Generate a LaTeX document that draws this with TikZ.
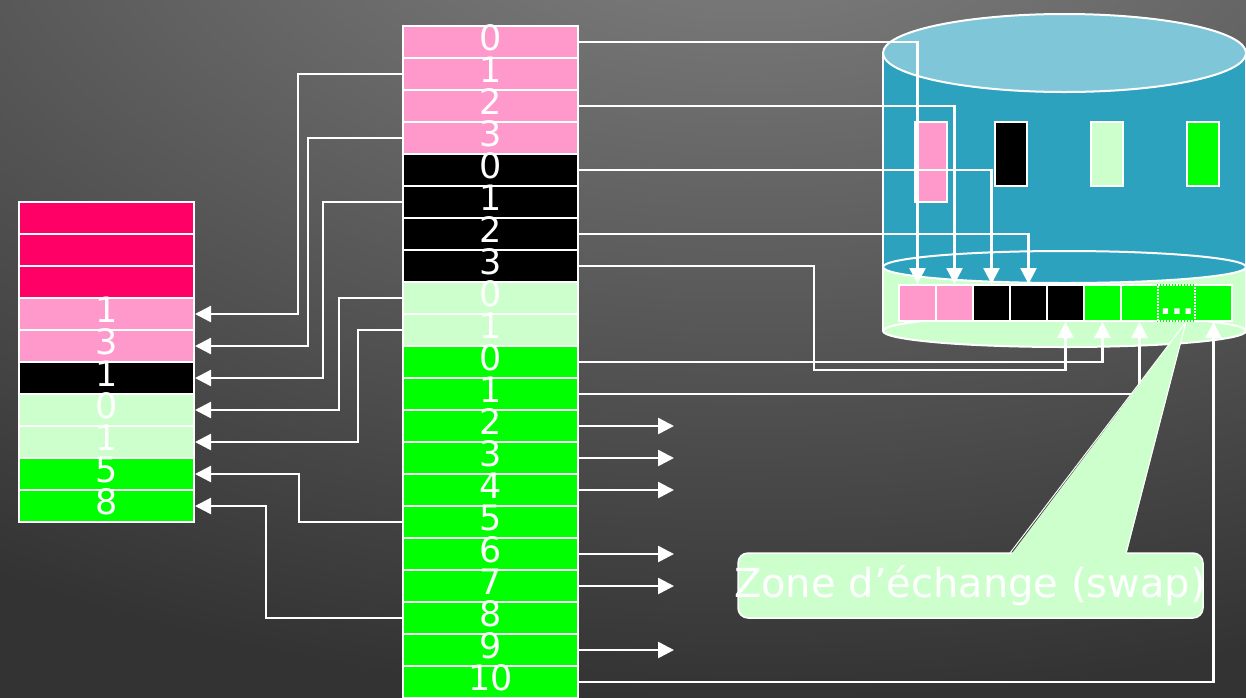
\documentclass[tikz,border=0pt]{standalone}
\usepackage{fontspec}
\setmainfont{DejaVu Sans}
\usetikzlibrary{arrows.meta,calc}
\definecolor{pinkc}{HTML}{FF99CC}
\definecolor{redc}{HTML}{FF0066}
\definecolor{lgr}{HTML}{CCFFCC}
\definecolor{grn}{HTML}{00FF00}
\definecolor{diskbody}{HTML}{2CA2BF}
\definecolor{disktop}{HTML}{80C6D9}
\definecolor{bgin}{HTML}{858585}
\definecolor{bgout}{HTML}{333333}
\pgfdeclareradialshading{bgshade}{\pgfpoint{0bp}{0bp}}{color(0bp)=(bgin); color(19bp)=(bgout); color(25bp)=(bgout); color(50bp)=(bgout)}
\begin{document}
\begin{tikzpicture}[x=1pt,y=-1pt,
  cell/.style={rectangle, minimum width=175pt, minimum height=32pt, inner sep=0pt,
    draw=white, line width=2pt, text=white, font=\fontsize{35}{35}\selectfont,
    text height=24pt, text depth=8pt},
  slot/.style={rectangle, minimum width=37pt, minimum height=36pt, inner sep=0pt,
    draw=white, line width=2pt},
  dotslot/.style={slot, fill=grn, densely dotted, preaction={draw=grn, solid, line width=2pt}},
  drect/.style={rectangle, minimum width=32pt, minimum height=64pt, inner sep=0pt,
    draw=white, line width=2.5pt},
  conn/.style={draw=white, line width=2.5pt},
  arr/.style={conn, -{Triangle[length=16pt,width=16pt]}},
  cbox/.style={rectangle, rounded corners=10pt, minimum width=465pt, minimum height=65pt,
    fill=lgr, draw=white, line width=1.5pt, inner sep=0pt},
  ctext/.style={text=white, font=\fontsize{40}{40}\selectfont, inner sep=0pt, anchor=base},
  dotstext/.style={text=white, font=\fontsize{30}{30}\selectfont\bfseries, inner sep=0pt, anchor=base}
]
\useasboundingbox (0,0) rectangle (1246,697);
% background
\begin{scope}
  \clip (0,0) rectangle (1246,697);
  \fill[bgout] (0,0) rectangle (1246,697);
  \shade[shading=bgshade] (750,-150) ellipse [x radius=1900, y radius=1120];
\end{scope}

% disk (cylinder)
\fill[lgr] (883,267) rectangle (1246,331);
\fill[lgr] (1064.5,331) ellipse [x radius=181.5, y radius=16];
\draw[white, line width=2pt] (1064.5,331) ellipse [x radius=181.5, y radius=16];
\fill[diskbody] (883,53) rectangle (1246,267);
\filldraw[fill=diskbody, draw=white, line width=2pt] (1064.5,267) ellipse [x radius=181.5, y radius=16];
\draw[white, line width=2pt] (883,53) -- (883,331);
\draw[white, line width=2pt] (1246,53) -- (1246,331);
\filldraw[fill=disktop, draw=white, line width=2pt] (1064.5,53) ellipse [x radius=181.5, y radius=39];

% blocks inside the disk
\node[drect, fill=pinkc, minimum height=80pt] (dp) at (931,162) {};
\node[drect, fill=black] (db) at (1011,154) {};
\node[drect, fill=lgr] (dl) at (1107,154) {};
\node[drect, fill=grn] (dg) at (1203,154) {};

% swap slots
\node[slot, fill=pinkc] (s1) at (917.5,303) {};
\node[slot, fill=pinkc] (s2) at (954.5,303) {};
\node[slot, fill=black] (s3) at (991.5,303) {};
\node[slot, fill=black] (s4) at (1028.5,303) {};
\node[slot, fill=black] (s5) at (1065.5,303) {};
\node[slot, fill=grn] (s6) at (1102.5,303) {};
\node[slot, fill=grn] (s7) at (1139.5,303) {};
\node[slot, fill=grn] (s9) at (1213.5,303) {};
\node[dotslot] (s8) at (1176.5,303) {};
\node[dotstext] (s8d) at (1177,314) {...};

% middle column
\foreach \n/\c/\t [count=\k from 0] in {
  mp0/pinkc/0, mp1/pinkc/1, mp2/pinkc/2, mp3/pinkc/3,
  mb0/black/0, mb1/black/1, mb2/black/2, mb3/black/3,
  ml0/lgr/0, ml1/lgr/1,
  mg0/grn/0, mg1/grn/1, mg2/grn/2, mg3/grn/3, mg4/grn/4, mg5/grn/5,
  mg6/grn/6, mg7/grn/7, mg8/grn/8, mg9/grn/9, mg10/grn/10}
  \node[cell, fill=\c] (\n) at (490.5, 42+32*\k) {\t};

% left column
\foreach \n/\c/\t [count=\k from 0] in {
  lr0/redc/, lr1/redc/, lr2/redc/,
  lp1/pinkc/1, lp3/pinkc/3, lb1/black/1,
  ll0/lgr/0, ll1/lgr/1, lg5/grn/5, lg8/grn/8}
  \node[cell, fill=\c] (\n) at (106.5, 218+32*\k) {\t};

% connectors to the left column
\draw[arr] (mp1.west) -- ++(-104,0) |- (lp1.east);
\draw[arr] (mp3.west) -- ++(-94,0) |- (lp3.east);
\draw[arr] (mb1.west) -- ++(-79,0) |- (lb1.east);
\draw[arr] (ml0.west) -- ++(-63,0) |- (ll0.east);
\draw[arr] (ml1.west) -- ++(-44,0) |- (ll1.east);
\draw[arr] (mg5.west) -- ++(-103,0) |- (lg5.east);
\draw[arr] (mg8.west) -- ++(-136,0) |- (lg8.east);

% arrows to the right (free ends)
\foreach \n in {mg2,mg3,mg4,mg6,mg7,mg9}
  \draw[arr] (\n.east) -- ++(95,0);

% connectors to the swap slots
\draw[arr] (mp0.east) -| (s1.north);
\draw[arr] (mp2.east) -| (s2.north);
\draw[arr] (mb0.east) -| (s3.north);
\draw[arr] (mb2.east) -| (s4.north);
\draw[arr] (mb3.east) -- ++(235,0) -- ++(0,104) -| (s5.south);
\draw[arr] (mg0.east) -| (s6.south);
\draw[arr] (mg1.east) -| (s7.south);
\draw[arr] (mg10.east) -| (s9.south);

% callout
\node[cbox] (cb) at (970.5,585.5) {};
\coordinate (tip) at (1186,322);
\fill[lgr] (1010,556) -- (tip) -- (1126,556) -- cycle;
\draw[white, line width=1pt] (1010,553) -- (tip) -- (1126,553);
\node[ctext] (ct) at (970,597) {Zone d’échange (swap)};
\end{tikzpicture}
\end{document}
